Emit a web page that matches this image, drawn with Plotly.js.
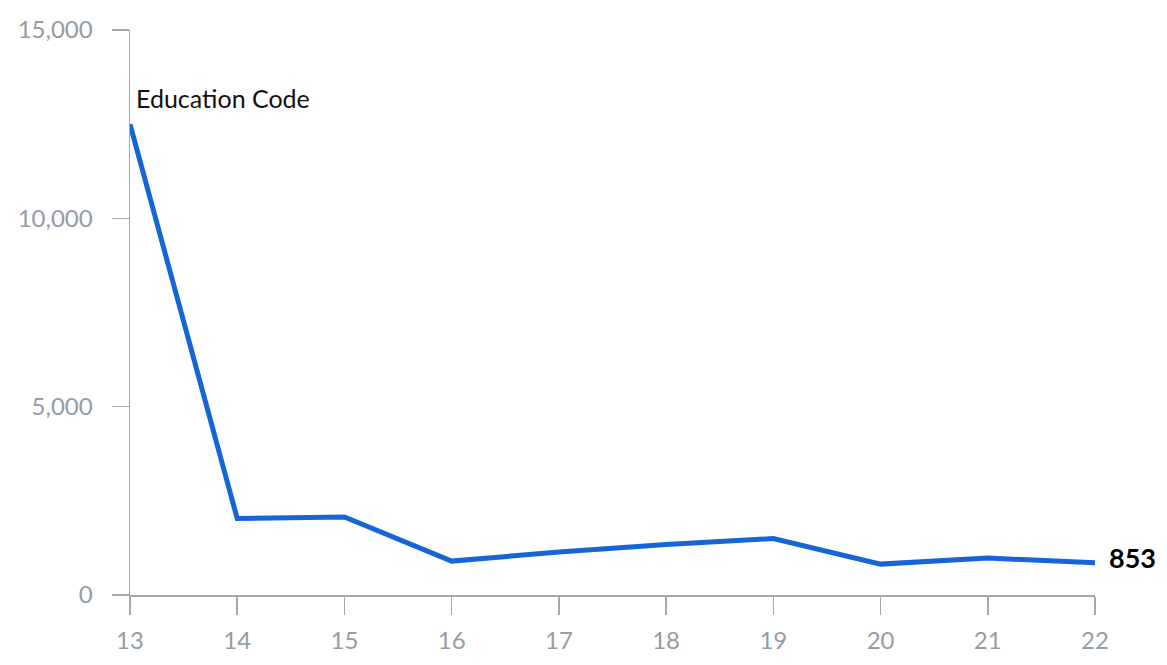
<!DOCTYPE html>
<html>
<head>
<meta charset="utf-8">
<script src="https://cdn.plot.ly/plotly-3.0.1.min.js"></script>
<style>html,body{margin:0;padding:0;background:#fff;}#chart{width:1167px;height:665px;}</style>
</head>
<body>
<div id="chart"></div>
<script>
const years = [13, 14, 15, 16, 17, 18, 19, 20, 21, 22];
const educationCode = [12500, 2030, 2070, 900, 1140, 1340, 1500, 820, 980, 853];
const yTicks = [0, 5000, 10000, 15000];
const yTickLabels = ["0", "5,000", "10,000", "15,000"];
const seriesName = "Education Code";
const lastLabel = "853";

const axisColor = "#a3a9b0";
const tickFontColor = "#949ca5";

const trace = {
  x: years, y: educationCode, type: "scatter", mode: "lines",
  line: {color: "#1565d8", width: 5},
  hoverinfo: "skip", cliponaxis: false
};

const layout = {
  width: 1167, height: 665,
  margin: {l: 130, r: 72, t: 30, b: 70},
  paper_bgcolor: "#fff", plot_bgcolor: "#fff",
  showlegend: false,
  font: {family: "Lato, 'Open Sans', sans-serif"},
  xaxis: {
    range: [13, 22], tickvals: years, ticktext: years.map(String),
    showgrid: false, zeroline: false, showline: true, linecolor: axisColor, linewidth: 1.5,
    ticks: "outside", ticklen: 18, tickcolor: axisColor, tickwidth: 1.5,
    tickfont: {size: 24, color: tickFontColor}, ticklabelstandoff: 6
  },
  yaxis: {
    range: [0, 15000], tickvals: yTicks, ticktext: yTickLabels,
    showgrid: false, zeroline: false, showline: true, linecolor: axisColor, linewidth: 1.5,
    ticks: "outside", ticklen: 17, tickcolor: axisColor, tickwidth: 1.5,
    tickfont: {size: 24, color: tickFontColor}, ticklabelstandoff: 14
  },
  annotations: [
    {x: years[0], y: educationCode[0], xref: "x", yref: "y", text: seriesName,
     showarrow: false, xanchor: "left", yanchor: "middle", xshift: 4, yshift: 26,
     font: {size: 25, color: "#111"}},
    {x: years[years.length-1], y: educationCode[educationCode.length-1], xref: "x", yref: "y",
     text: "<b>" + lastLabel + "</b>", showarrow: false, xanchor: "left", yanchor: "middle",
     xshift: 12, yshift: 5, font: {size: 27, color: "#000"}}
  ]
};

Plotly.newPlot("chart", [trace], layout, {displayModeBar: false, staticPlot: true});
</script>
</body>
</html>
